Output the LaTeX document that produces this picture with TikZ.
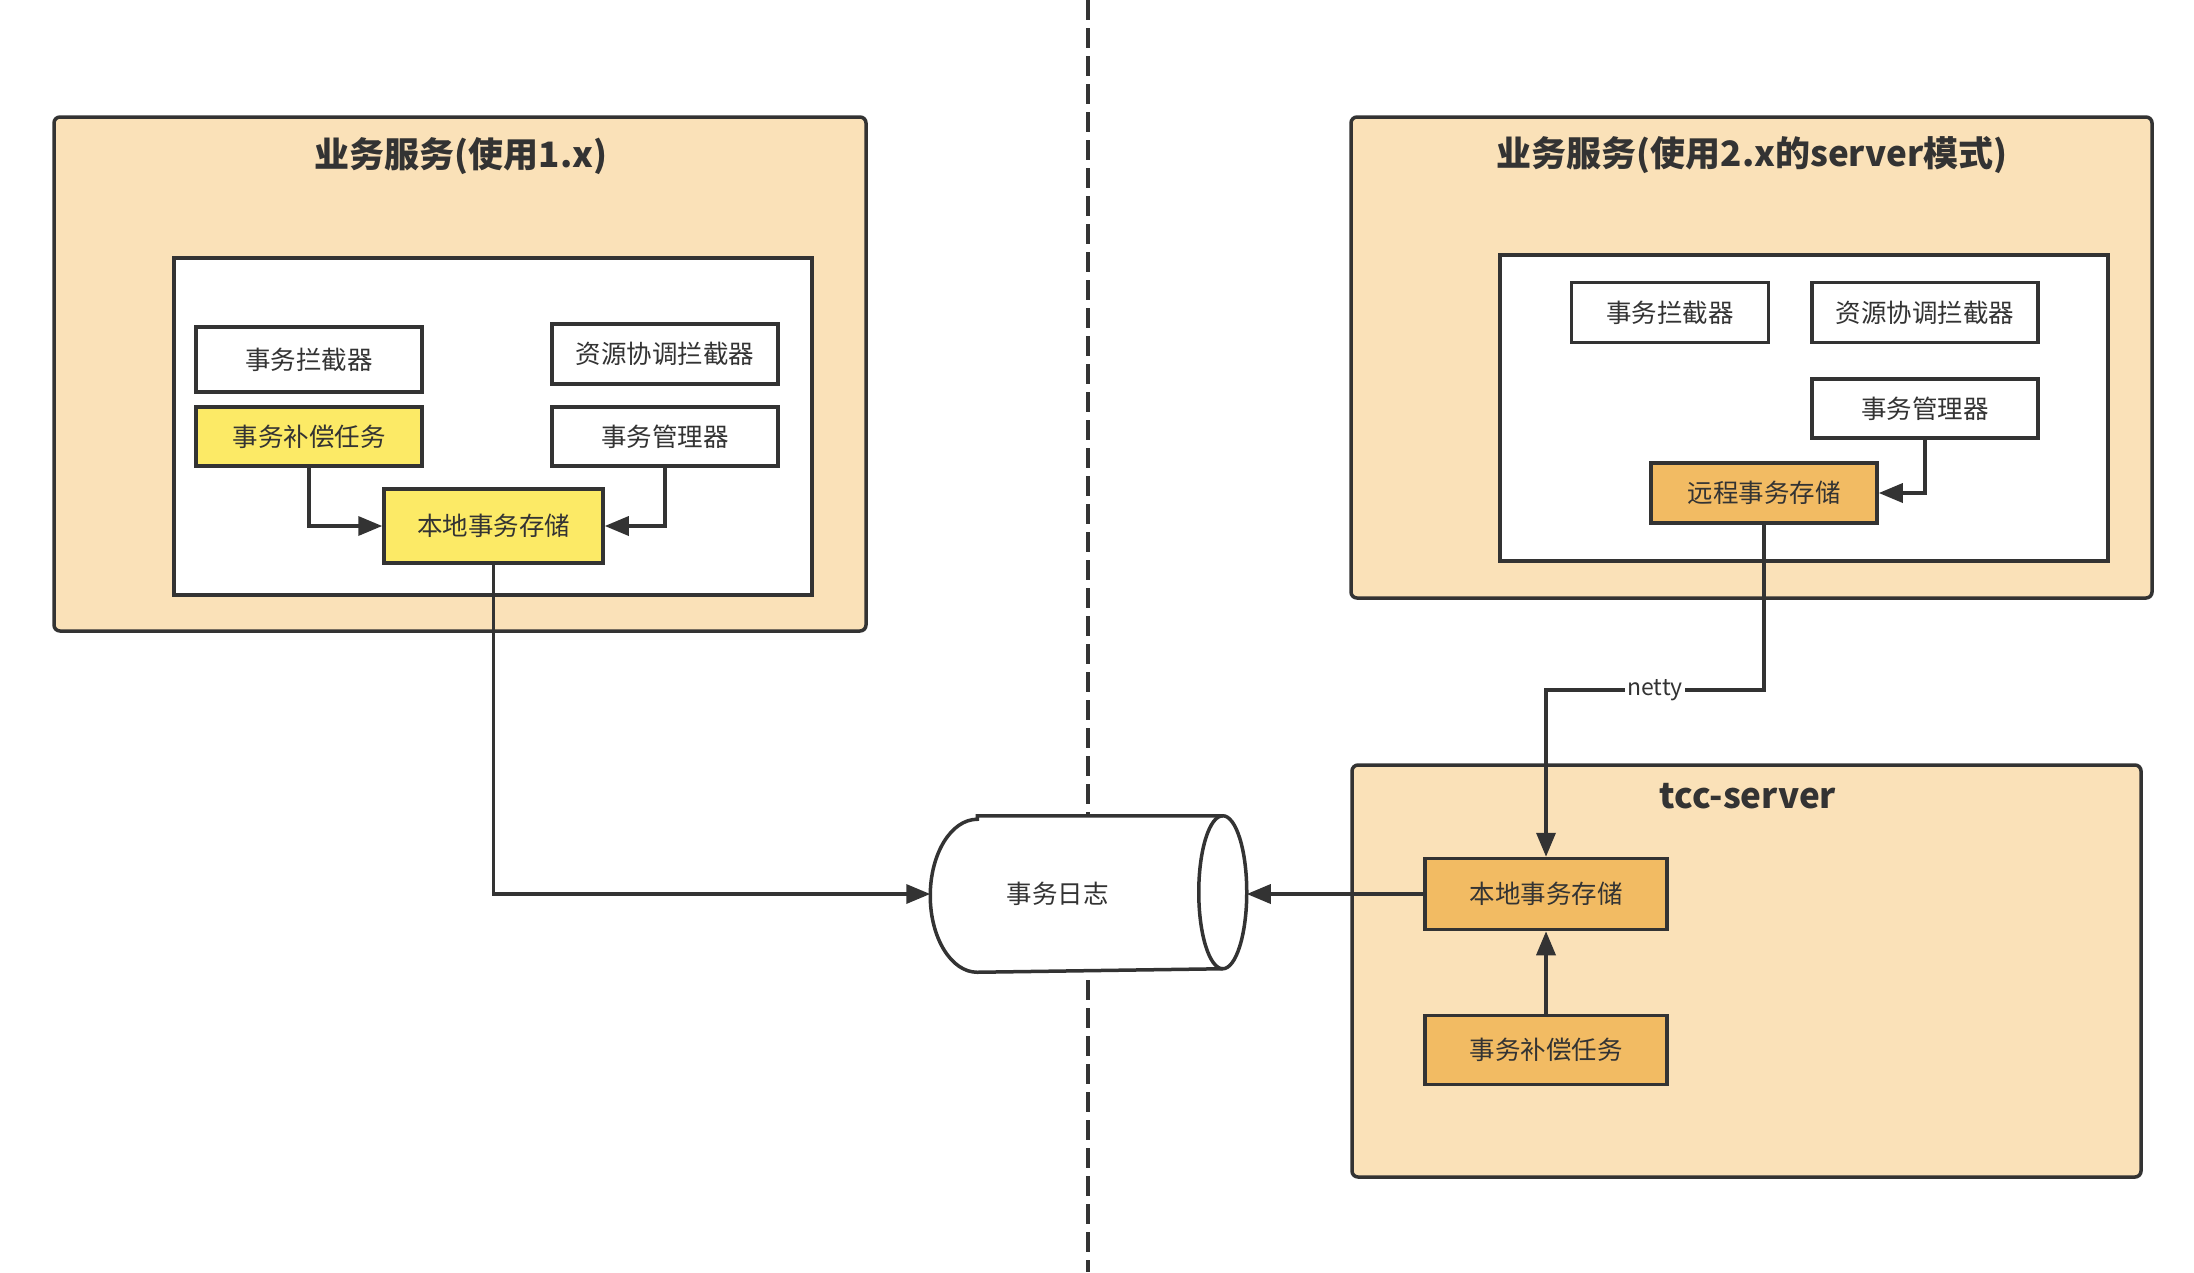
\documentclass[tikz,border=0pt]{standalone}
\usepackage{fontspec}
\newfontfamily\cjk{Noto Sans CJK SC}
\usetikzlibrary{arrows.meta}
\definecolor{ink}{HTML}{333333}
\definecolor{tanfill}{HTML}{FAE1B8}
\definecolor{yelfill}{HTML}{FCEA66}
\definecolor{orgfill}{HTML}{F2BB63}

\tikzset{every picture/.style={line width=3.5pt}}
\tikzset{
  txt/.style={font=\cjk\fontsize{25.5}{30}\selectfont, text=ink, inner sep=0pt},
  boxw/.style={txt, draw=ink, fill=white, minimum width=226pt, minimum height=60pt},
  boxy/.style={boxw, fill=yelfill},
  boxo/.style={boxw, fill=orgfill},
  grouptitle/.style={font=\cjk\bfseries\fontsize{35}{42}\selectfont, text=ink, inner sep=0pt},
  arr/.style={draw=ink, -{Triangle[length=24pt,width=19pt]}},
}

\begin{document}
\begin{tikzpicture}[x=1pt,y=1pt,yscale=-1,xscale=1]
\useasboundingbox (0,0) rectangle (2194,1272);

%Dashed Line
\draw [ink, dash pattern=on 20pt off 8pt] (1088,0) -- (1088,1272);

%Shape: Rectangle (left service)
\draw [ink, fill=tanfill, rounded corners=6pt] (54,117) rectangle (866,631);
\draw [ink, fill=white] (174,258) rectangle (812,595);
% Text Node
\node [grouptitle] (titleL) at (461,156) {业务服务(使用1.x)};
\node [boxw, minimum height=65pt] (icptL) at (309,359.5) {事务拦截器};
\node [boxy, minimum height=59pt] (compL) at (309,436.5) {事务补偿任务};
\node [boxw] (rsrcL) at (665,354) {资源协调拦截器};
\node [boxw, minimum height=59pt] (mgrL) at (665,436.5) {事务管理器};
\node [boxy, minimum width=219pt, minimum height=74pt] (storeL) at (493.5,526) {本地事务存储};

%Shape: Rectangle (right service)
\draw [ink, fill=tanfill, rounded corners=6pt] (1351,117) rectangle (2152,598);
\draw [ink, fill=white] (1500,255) rectangle (2108,561);
% Text Node
\node [grouptitle] (titleR) at (1752,155) {业务服务(使用2.x的server模式)};
\node [boxw, minimum width=197pt] (icptR) at (1670,312.7) {事务拦截器};
\node [boxw] (rsrcR) at (1925,312.7) {资源协调拦截器};
\node [boxw, minimum height=59pt] (mgrR) at (1925,408.5) {事务管理器};
\node [boxo] (remote) at (1764,493) {远程事务存储};

%Shape: Rectangle (tcc-server)
\draw [ink, fill=tanfill, rounded corners=6pt] (1352,765) rectangle (2141,1177);
% Text Node
\node [grouptitle] (titleS) at (1748,796) {tcc-server};
\node [boxo, minimum width=242pt, minimum height=71pt] (storeR) at (1546,894) {本地事务存储};
\node [boxo, minimum width=242pt, minimum height=69pt] (compR) at (1546,1050) {事务补偿任务};

%Shape: Can
\node [minimum width=313pt, minimum height=153pt, inner sep=0pt] (log) at (1088.5,894) {};
\draw [ink, fill=white] ([xshift=47pt]log.north west) -- ([xshift=-24pt]log.north east)
  arc [start angle=-90, end angle=90, x radius=24pt, y radius=76.5pt]
  -- ([xshift=47pt]log.south west)
  arc [start angle=90, end angle=270, x radius=47pt, y radius=76.5pt] -- cycle;
\draw [ink] ([xshift=-24pt]log.north east) arc [start angle=270, end angle=90, x radius=24pt, y radius=76.5pt];
\node [txt] (logtxt) at ([xshift=-31pt]log.center) {事务日志};

%Straight Lines
\draw [arr] (compL.south) |- (storeL.west);
\draw [arr] (mgrL.south) |- (storeL.east);
\draw [arr] (storeL.south) |- (log.west);
\draw [arr] (mgrR.south) |- (remote.east);
\coordinate (nettyturn) at (1764,690);
\draw [arr] (remote.south) -- (nettyturn) -| node [pos=0.25, txt, font=\cjk\fontsize{23}{27}\selectfont, fill=white, inner sep=2pt] (netty) {netty} (storeR.north);
\draw [arr] (compR.north) -- (storeR.south);
\draw [arr] (storeR.west) -- (log.east);

\end{tikzpicture}
\end{document}
